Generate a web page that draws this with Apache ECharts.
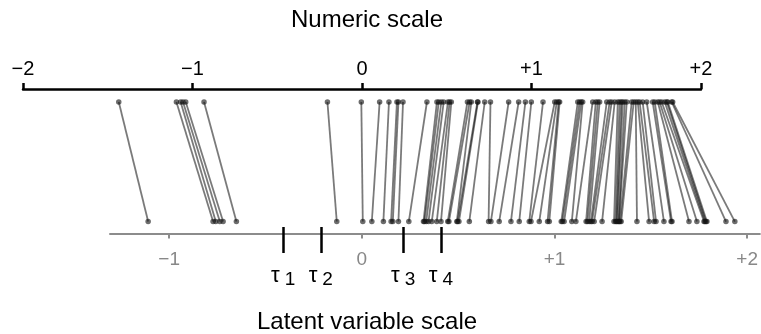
<!DOCTYPE html>
<html>
<head>
<meta charset="utf-8">
<script src="https://cdn.jsdelivr.net/npm/echarts@6/dist/echarts.min.js"></script>
<style>
  html, body { margin: 0; padding: 0; background: #fff; }
  #chart { width: 761px; height: 334px; }
</style>
</head>
<body>
<div id="chart"></div>
<script>
// numeric score of each item (top axis) and its latent estimate (bottom axis)
const numericVals = [
  -1.435, -1.095, -1.070, -1.056, -1.040, -0.932, -0.204, -0.004, 0.104, 0.159,
  0.206, 0.215, 0.242, 0.383, 0.442, 0.453, 0.468, 0.482, 0.507, 0.517,
  0.527, 0.622, 0.635, 0.645, 0.681, 0.684, 0.724, 0.758, 0.865, 0.924,
  0.964, 0.999, 1.068, 1.137, 1.149, 1.160, 1.166, 1.273, 1.284, 1.294,
  1.302, 1.361, 1.379, 1.391, 1.402, 1.444, 1.461, 1.473, 1.491, 1.509,
  1.520, 1.530, 1.538, 1.550, 1.562, 1.591, 1.603, 1.615, 1.627, 1.638,
  1.656, 1.680, 1.715, 1.727, 1.745, 1.756, 1.768, 1.786, 1.798, 1.804,
  1.827, 1.833
]
const latentVals = [
  -1.109, -0.772, -0.758, -0.737, -0.720, -0.651, -0.130, 0.005, 0.052, 0.112,
  0.152, 0.161, 0.190, 0.244, 0.320, 0.325, 0.334, 0.346, 0.363, 0.389,
  0.411, 0.446, 0.452, 0.493, 0.497, 0.504, 0.558, 0.658, 0.670, 0.713,
  0.774, 0.817, 0.869, 0.878, 0.921, 0.964, 0.973, 1.035, 1.041, 1.050,
  1.090, 1.111, 1.164, 1.171, 1.180, 1.189, 1.195, 1.206, 1.247, 1.309,
  1.317, 1.322, 1.326, 1.333, 1.335, 1.340, 1.346, 1.428, 1.491, 1.517,
  1.527, 1.568, 1.605, 1.610, 1.698, 1.739, 1.776, 1.781, 1.786, 1.791,
  1.890, 1.936
]
const latentTicks = [-1, 0, 1, 2]
const tauValues = [-0.41, -0.215, 0.212, 0.408]
const tauLabels = ['1', '2', '3', '4']

const FONT = 'Liberation Sans'
const latentMin = -1.307
const latentMax = 2.066

function signed (v) {
  if (v < 0) return '\u2212' + Math.abs(v)
  if (v > 0) return '+' + v
  return '0'
}

const myChart = echarts.init(document.getElementById('chart'))

const option = {
  animation: false,
  title: [
    { text: 'Numeric scale', left: 362, top: 3, textAlign: 'center',
      textStyle: { fontFamily: FONT, fontSize: 24, fontWeight: 'normal', color: '#000' } },
    { text: 'Latent variable scale', left: 362, top: 305, textAlign: 'center',
      textStyle: { fontFamily: FONT, fontSize: 24, fontWeight: 'normal', color: '#000' } }
  ],
  grid: [
    { left: 23, right: 60, top: 102, height: 131.5 },
    { left: 110, right: 0, top: 102, height: 131.5 },
    { left: 110, right: 0, top: 102, height: 131.5 }
  ],
  yAxis: [
    { gridIndex: 0, type: 'value', min: -0.1, max: 1, show: false },
    { gridIndex: 1, type: 'value', min: -0.1, max: 1, show: false },
    { gridIndex: 2, type: 'value', min: -0.1, max: 1, show: false }
  ],
  xAxis: [
    {
      // 上方数值轴
      gridIndex: 0,
      type: 'value',
      position: 'top',
      offset: 13,
      min: -2,
      max: 2,
      interval: 1,
      splitLine: { show: false },
      axisLine: { onZero: false, lineStyle: { color: '#000', width: 2.5 } },
      axisTick: { length: 6, lineStyle: { color: '#000', width: 2.5 } },
      axisLabel: {
        margin: 10,
        fontFamily: FONT,
        fontSize: 20,
        color: '#000',
        formatter: signed
      }
    },
    {
      // 下方潜变量轴
      gridIndex: 1,
      type: 'value',
      position: 'bottom',
      min: latentMin,
      max: latentMax,
      splitLine: { show: false },
      axisLine: { onZero: false, lineStyle: { color: '#8c8c8c', width: 2 } },
      axisTick: { customValues: latentTicks, length: 5, lineStyle: { color: '#8c8c8c', width: 2 } },
      axisLabel: {
        customValues: latentTicks,
        margin: 17,
        fontFamily: FONT,
        fontSize: 19,
        color: '#888',
        formatter: signed
      }
    },
    {
      // 阈值 tau
      gridIndex: 2,
      type: 'value',
      position: 'bottom',
      offset: -6.5,
      min: latentMin,
      max: latentMax,
      splitLine: { show: false },
      axisLine: { show: false, onZero: false },
      axisTick: { customValues: tauValues, length: 26, lineStyle: { color: '#000', width: 2.5 } },
      axisLabel: {
        customValues: tauValues,
        margin: 35,
        formatter: function (v) {
          const i = tauValues.indexOf(v)
          return '{t|\u03c4}{n|' + (i >= 0 ? tauLabels[i] : '') + '}'
        },
        rich: {
          t: { fontFamily: FONT, fontSize: 22, color: '#000', padding: [0, 5, 0, 0] },
          n: { fontFamily: FONT, fontSize: 19, color: '#000', padding: [8, 0, 0, 0] }
        }
      }
    }
  ],
  series: [
    {
      id: 'links',
      type: 'lines',
      coordinateSystem: 'cartesian2d',
      xAxisIndex: 0,
      yAxisIndex: 0,
      clip: false,
      z: 1,
      lineStyle: { color: 'rgba(0,0,0,0.52)', width: 1.8, opacity: 1 },
      data: []
    },
    {
      type: 'scatter',
      xAxisIndex: 0,
      yAxisIndex: 0,
      symbolSize: 5.5,
      z: 2,
      itemStyle: { color: 'rgba(20,20,20,0.78)' },
      data: numericVals.map(v => [v, 1])
    },
    {
      type: 'scatter',
      xAxisIndex: 1,
      yAxisIndex: 1,
      symbolSize: 5.5,
      z: 2,
      itemStyle: { color: 'rgba(20,20,20,0.78)' },
      data: latentVals.map(v => [v, 0])
    }
  ]
}

myChart.setOption(option)

// 把潜变量值通过下方轴换算到上方轴的坐标，再连线
const links = numericVals.map((v, i) => {
  const px = myChart.convertToPixel({ xAxisIndex: 1 }, latentVals[i])
  const onTop = myChart.convertFromPixel({ xAxisIndex: 0 }, px)
  return { coords: [[v, 1], [onTop, 0]] }
})
myChart.setOption({ series: [{ id: 'links', data: links }] })

window.addEventListener('resize', () => {
  myChart.resize()
})
</script>
</body>
</html>
